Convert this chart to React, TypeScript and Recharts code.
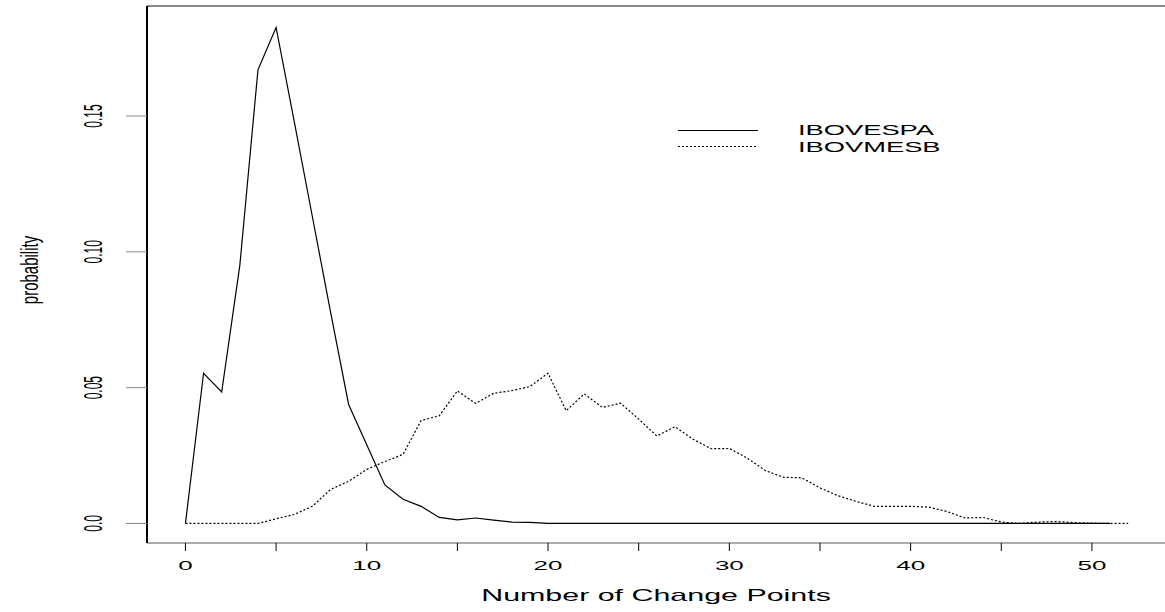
import { Line, LineChart, ReferenceLine, XAxis, YAxis } from "recharts";

const changePoints = [
  0, 1, 2, 3, 4, 5, 6, 7, 8, 9, 10, 11, 12, 13, 14, 15, 16, 17, 18, 19, 20, 21,
  22, 23, 24, 25, 26, 27, 28, 29, 30, 31, 32, 33, 34, 35, 36, 37, 38, 39, 40,
  41, 42, 43, 44, 45, 46, 47, 48, 49, 50, 51, 52,
];

// x = 0..51
const ibovespa = [
  0, 0.0553, 0.0484, 0.095, 0.167, 0.1826, 0.148, 0.113, 0.078, 0.0438, 0.029,
  0.0142, 0.0089, 0.0063, 0.0022, 0.0013, 0.002, 0.0012, 0.0005, 0.0004, 0, 0,
  0, 0, 0, 0, 0, 0, 0, 0, 0, 0, 0, 0, 0, 0, 0, 0, 0, 0, 0, 0, 0, 0, 0, 0, 0,
  0, 0, 0, 0, 0,
];

// x = 0..52
const ibovmesb = [
  0, 0, 0, 0, 0, 0.0017, 0.0033, 0.0063, 0.0125, 0.0155, 0.0199, 0.0228,
  0.0254, 0.0379, 0.0396, 0.0488, 0.0442, 0.0479, 0.0489, 0.0504, 0.0553,
  0.0415, 0.0477, 0.0427, 0.0443, 0.0384, 0.0322, 0.0356, 0.031, 0.0275,
  0.0276, 0.024, 0.0194, 0.017, 0.0168, 0.0131, 0.0102, 0.0081, 0.0063, 0.0063,
  0.0063, 0.006, 0.0044, 0.002, 0.0022, 0.0005, 0, 0.0005, 0.0007, 0.0003,
  0.0001, 0, 0,
];

const xTicks = [0, 5, 10, 15, 20, 25, 30, 35, 40, 45, 50];
const yTicks = [0, 0.05, 0.1, 0.15];
const yTickLabels = ["0.0", "0.05", "0.10", "0.15"];

const series = [
  { key: "ibovespa", name: "IBOVESPA", dash: undefined },
  { key: "ibovmesb", name: "IBOVMESB", dash: "2 2" },
];

const rows = changePoints.map((x, i) => ({
  x,
  ibovespa: ibovespa[i],
  ibovmesb: ibovmesb[i],
}));

const X_MIN = -2.12;
const X_MAX = 54.03;
const Y_MIN = -0.0072;
const Y_MAX = 0.1905;
const FONT = "'Liberation Sans', Arial, sans-serif";

function XTick(props: any) {
  const { x, payload } = props;
  if (payload.value % 10 !== 0) return null;
  return (
    <text
      transform={`translate(${x},565) scale(2,1)`}
      textAnchor="middle"
      dominantBaseline="central"
      fontSize={13}
      fontFamily={FONT}
      fill="#000"
    >
      {payload.value}
    </text>
  );
}

function YTick(props: any) {
  const { y, payload } = props;
  const i = yTicks.indexOf(payload.value);
  return (
    <text
      transform={`translate(92,${y}) scale(2.2,1) rotate(-90)`}
      textAnchor="middle"
      dominantBaseline="central"
      fontSize={12}
      fontFamily={FONT}
      fill="#000"
    >
      {yTickLabels[i]}
    </text>
  );
}

export default function App() {
  return (
    <div style={{ position: "absolute", left: 0, top: 0, width: 1165, height: 612, background: "#fff" }}>
      <LineChart
        width={1165}
        height={612}
        data={rows}
        margin={{ top: 6, right: 0, left: 0, bottom: 0 }}
      >
        <XAxis
          dataKey="x"
          type="number"
          domain={[X_MIN, X_MAX]}
          ticks={xTicks}
          allowDataOverflow
          height={69}
          tickSize={8}
          tick={<XTick />}
          axisLine={{ stroke: "#aaa", strokeWidth: 2 }}
          tickLine={{ stroke: "#000" }}
        />
        <YAxis
          type="number"
          domain={[Y_MIN, Y_MAX]}
          ticks={yTicks}
          allowDataOverflow
          width={147}
          tickSize={21}
          tick={<YTick />}
          axisLine={{ stroke: "#000", strokeWidth: 2 }}
          tickLine={{ stroke: "#888" }}
        />
        <ReferenceLine y={Y_MAX} stroke="#888" strokeWidth={2} />
        <ReferenceLine
          segment={[
            { x: 0, y: Y_MIN },
            { x: 50, y: Y_MIN },
          ]}
          stroke="#555"
          strokeWidth={2}
        />
        {series.map((s) => (
          <Line
            key={s.key}
            dataKey={s.key}
            name={s.name}
            type="linear"
            stroke="#000"
            strokeWidth={1.2}
            strokeDasharray={s.dash}
            dot={false}
            activeDot={false}
            connectNulls={false}
            isAnimationActive={false}
          />
        ))}
      </LineChart>
      <svg
        width={1165}
        height={612}
        style={{ position: "absolute", left: 0, top: 0, pointerEvents: "none" }}
      >
        <text
          transform="translate(656,595) scale(1.9,1)"
          textAnchor="middle"
          dominantBaseline="central"
          fontSize={16}
          fontFamily={FONT}
        >
          Number of Change Points
        </text>
        <text
          transform="translate(30,270) scale(1.6,1) rotate(-90)"
          textAnchor="middle"
          dominantBaseline="central"
          fontSize={15}
          fontFamily={FONT}
        >
          probability
        </text>
        {series.map((s, i) => (
          <g key={s.key}>
            <line
              x1={678}
              x2={758}
              y1={130.5 + i * 16}
              y2={130.5 + i * 16}
              stroke="#000"
              strokeWidth={1}
              strokeDasharray={s.dash}
            />
            <text
              transform={`translate(798,${130 + i * 17}) scale(1.95,1)`}
              dominantBaseline="central"
              fontSize={14}
              fontFamily={FONT}
            >
              {s.name}
            </text>
          </g>
        ))}
      </svg>
    </div>
  );
}
